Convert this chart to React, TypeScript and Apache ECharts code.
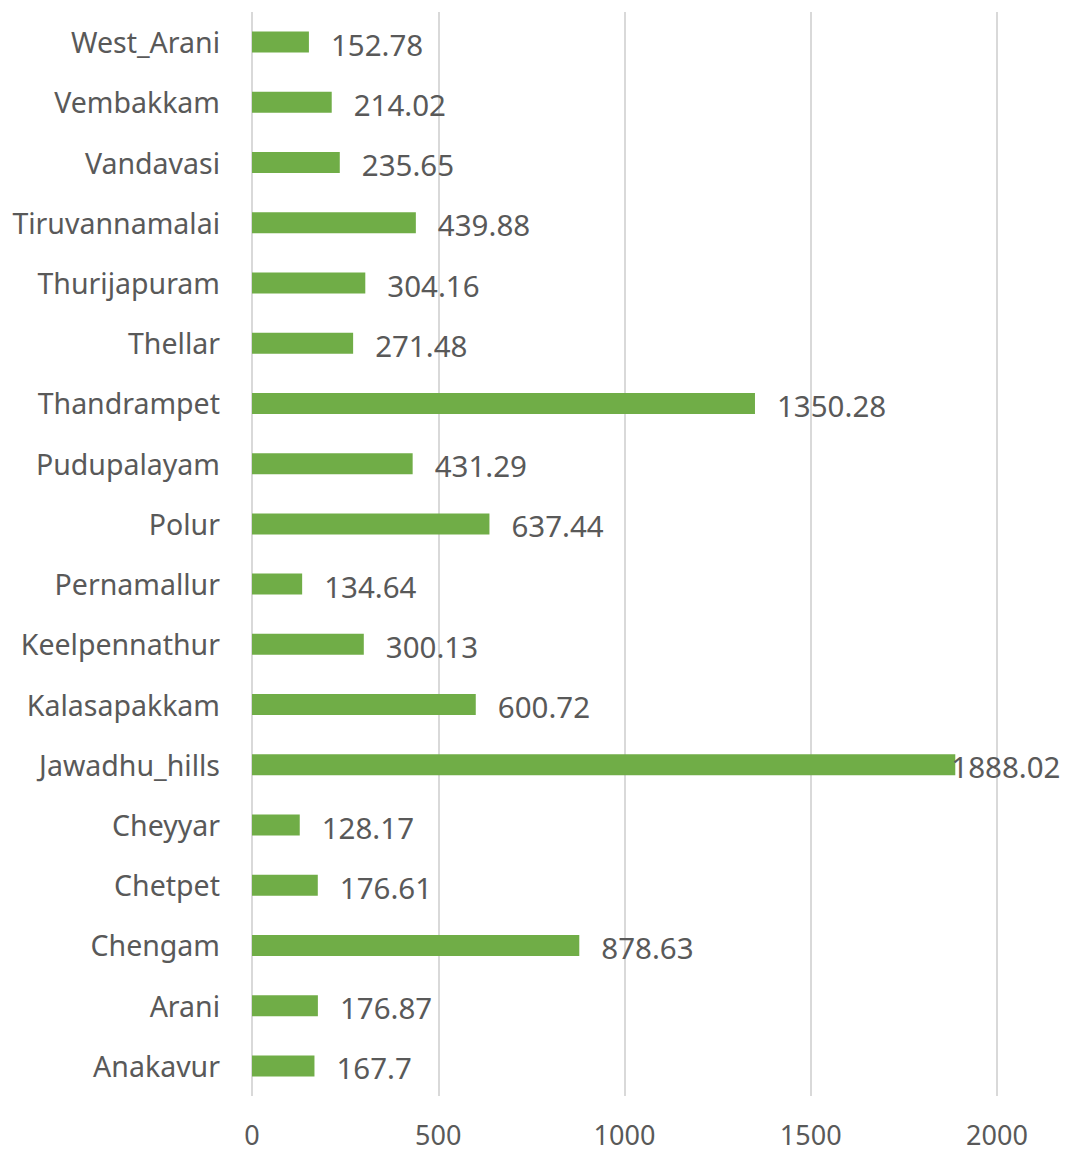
import React, { useEffect, useRef } from "react";
import * as echarts from "echarts";

const categories = [
  "Anakavur",
  "Arani",
  "Chengam",
  "Chetpet",
  "Cheyyar",
  "Jawadhu_hills",
  "Kalasapakkam",
  "Keelpennathur",
  "Pernamallur",
  "Polur",
  "Pudupalayam",
  "Thandrampet",
  "Thellar",
  "Thurijapuram",
  "Tiruvannamalai",
  "Vandavasi",
  "Vembakkam",
  "West_Arani",
];

const values = [
  167.7, 176.87, 878.63, 176.61, 128.17, 1888.02, 600.72, 300.13, 134.64,
  637.44, 431.29, 1350.28, 271.48, 304.16, 439.88, 235.65, 214.02, 152.78,
];

const xTicks = [0, 500, 1000, 1500, 2000];

const FONT = "'Noto Sans', sans-serif";
const TEXT = "#595959";

export default function App() {
  const ref = useRef<HTMLDivElement>(null);
  useEffect(() => {
    document.body.style.margin = "0";
    if (!ref.current) return;
    const chart = echarts.init(ref.current, undefined, { renderer: "svg" });
    const xMax = xTicks[xTicks.length - 1];
    const seriesData = values.map((v) =>
      v > xMax * 0.9 ? { value: v, label: { distance: -4 } } : v
    );
    chart.setOption({
      animation: false,
      backgroundColor: "#ffffff",
      grid: { left: 252, right: 68, top: 12, bottom: 57, containLabel: false },
      xAxis: {
        type: "value",
        min: xTicks[0],
        max: xMax,
        interval: 500,
        axisLine: { show: false },
        axisTick: { show: false },
        axisLabel: {
          color: TEXT,
          fontSize: 27,
          lineHeight: 27,
          fontFamily: FONT,
          margin: 25,
          formatter: (v: number) => String(v),
        },
        splitLine: { show: true, lineStyle: { color: "#D9D9D9", width: 2 } },
      },
      yAxis: {
        type: "category",
        data: categories,
        axisLine: { show: false },
        axisTick: { show: false },
        axisLabel: {
          color: TEXT,
          fontSize: 28.5,
          fontFamily: FONT,
          margin: 32,
        },
        splitLine: { show: false },
      },
      series: [
        {
          type: "bar",
          data: seriesData,
          barWidth: 21,
          itemStyle: { color: "#70AD47" },
          label: {
            show: true,
            position: "right",
            distance: 22,
            color: TEXT,
            fontSize: 29.5,
            fontFamily: FONT,
            offset: [0, 2],
            formatter: (p: any) => String(p.value),
          },
        },
      ],
    });
    return () => chart.dispose();
  }, []);
  return <div ref={ref} style={{ width: 1065, height: 1153 }} />;
}
